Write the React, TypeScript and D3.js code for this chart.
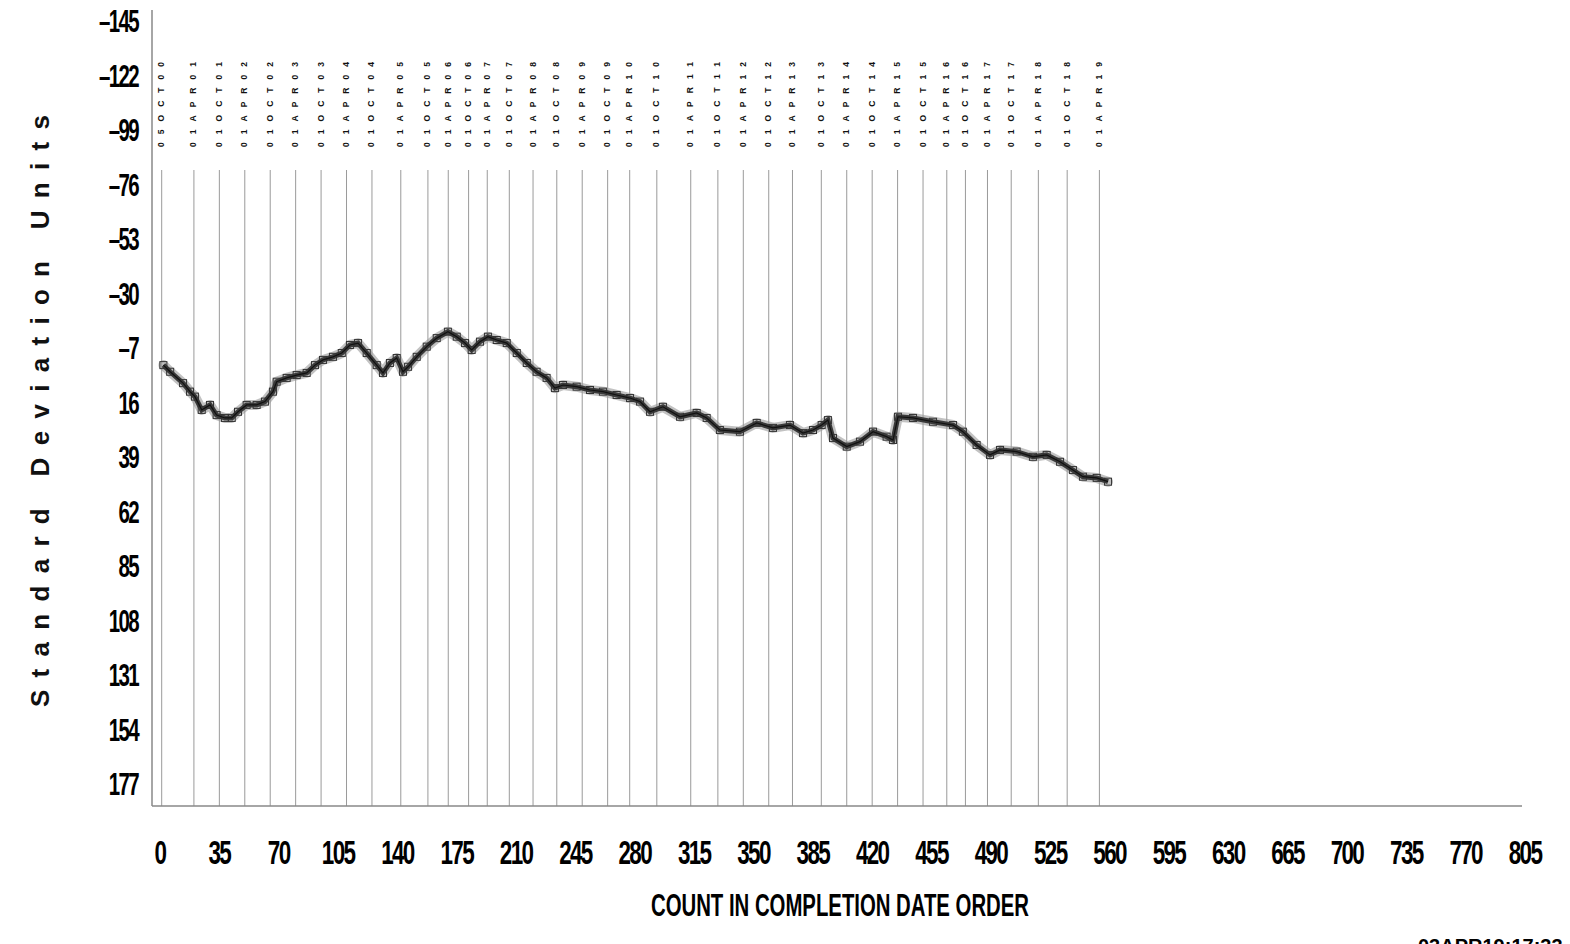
import React from "react";
import * as d3 from "d3";

// ---- data ----
const seriesCount = [2, 6, 13.6, 17.7, 20.6, 24.6, 29.5, 33.4, 38.3, 42.3, 46, 51.1, 57, 61.9, 66.6, 68.8, 74.7, 80.6, 86.5, 91.4, 96.1, 102, 107.2, 112, 116.8, 121.9, 127.8, 131.5, 135.6, 139.6, 143.3, 146.3, 151.4, 157.3, 163.2, 169.8, 175, 179.9, 183.8, 188.7, 193.4, 198.6, 204.5, 210.4, 216.3, 222.1, 228, 232.9, 237.7, 245.7, 253.6, 261.2, 269.3, 277.2, 283.1, 289, 296.6, 306.7, 316.5, 322.4, 330.2, 342, 351.9, 361.5, 371.5, 379.2, 385.1, 390.2, 393.9, 396.9, 405, 412.8, 420.5, 428.5, 432.3, 435.2, 444.1, 455.9, 467.7, 473.5, 481.6, 489.5, 495.4, 505.2, 514.8, 522.9, 530.8, 538.4, 544.3, 552.4, 559.1];
const seriesValue = [-0.1, 2.7, 7.5, 11.1, 13.2, 18.8, 16.7, 21, 22.2, 22.2, 19.6, 16.7, 16.7, 15.3, 11.1, 6.9, 5.3, 4.1, 3.2, -0.1, -2.3, -3.6, -5.2, -8.6, -9.4, -5.2, -0.1, 3.2, -1, -3.1, 2.7, 0.6, -3.6, -7.9, -11.5, -14.2, -12.1, -9.4, -6.5, -10, -12.1, -10.7, -9.4, -5.2, -1, 2.7, 5.3, 9.6, 8.3, 9, 10.4, 11.1, 12.5, 13.8, 15.3, 19.6, 17.5, 21.7, 20.1, 22.2, 27.3, 28, 24.3, 26.4, 25.2, 28.6, 27.3, 25.2, 23.1, 30.7, 34.3, 32.2, 28, 30.1, 31.5, 21.7, 22.2, 23.8, 25.2, 28, 33.6, 37.8, 35.7, 36.4, 38.6, 37.8, 40.7, 44.2, 47, 47.5, 49.1];

const dateLabels = ["05OCT00", "01APR01", "01OCT01", "01APR02", "01OCT02", "01APR03", "01OCT03", "01APR04", "01OCT04", "01APR05", "01OCT05", "01APR06", "01OCT06", "01APR07", "01OCT07", "01APR08", "01OCT08", "01APR09", "01OCT09", "01APR10", "01OCT10", "01APR11", "01OCT11", "01APR12", "01OCT12", "01APR13", "01OCT13", "01APR14", "01OCT14", "01APR15", "01OCT15", "01APR16", "01OCT16", "01APR17", "01OCT17", "01APR18", "01OCT18", "01APR19"];
const dateCounts = [1, 20, 35, 50, 65, 80, 95, 110, 125, 142, 158, 170, 182, 193, 206, 220, 234, 249, 264, 277, 293, 313, 329, 344, 359, 373, 390, 405, 420, 435, 450, 464, 475, 488, 502, 518, 535, 554];

const xTicks = d3.range(0, 806, 35);
const yTicks = d3.range(-145, 178, 23);

const xTitle = "COUNT IN COMPLETION DATE ORDER";
const yTitle = "Standard Deviation Units";
const stamp = "03APR19:17:33";

const W = 1570;
const H = 944;

export default function App() {
  const x = d3.scaleLinear().domain([0, 805]).range([160, 1525]);
  const y = d3.scaleLinear().domain([-150, 186]).range([10, 806]);
  const axisLeft = 152;
  const axisBottom = y(186);
  const axisRight = 1522;

  const pts: [number, number][] = seriesCount.map((c, i) => [c, seriesValue[i]]);
  const line = d3
    .line<[number, number]>()
    .x((d) => x(d[0]))
    .y((d) => y(d[1]));
  const path = line(pts) || "";

  const font = "'Liberation Sans', Arial, Helvetica, sans-serif";

  return (
    <svg
      width={W}
      height={H}
      style={{ position: "fixed", left: 0, top: 0, background: "#fff" }}
      fontFamily={font}
    >
      <rect x={0} y={0} width={W} height={H} fill="#fff" />

      {/* date vertical lines */}
      {dateCounts.map((c, i) => (
        <line
          key={"dl" + i}
          x1={x(c)}
          x2={x(c)}
          y1={170}
          y2={axisBottom}
          stroke="#9a9a9a"
          strokeWidth={1}
        />
      ))}

      {/* date labels */}
      {dateLabels.map((t, i) => (
        <text
          key={"dt" + i}
          transform={`translate(${x(dateCounts[i]) + 2.5},147) rotate(-90)`}
          fontSize={8.5}
          fontWeight="bold"
          textLength={85}
          lengthAdjust="spacing"
          fill="#111"
        >
          {t}
        </text>
      ))}

      {/* axes */}
      <line x1={axisLeft} x2={axisLeft} y1={10} y2={axisBottom} stroke="#888" strokeWidth={1.5} />
      <line x1={axisLeft} x2={axisRight} y1={axisBottom} y2={axisBottom} stroke="#888" strokeWidth={1.5} />

      {/* series */}
      <path d={path} fill="none" stroke="#9a9a9a" strokeWidth={10} strokeLinejoin="round" strokeLinecap="round" opacity={0.6} />
      <path d={path} fill="none" stroke="#3a3a3a" strokeWidth={5} strokeLinejoin="miter" />
      {pts.map((d, i) => (
        <rect
          key={"m" + i}
          x={x(d[0]) - 3.5}
          y={y(d[1]) - 3.5}
          width={7}
          height={7}
          fill="none"
          stroke="#333"
          strokeWidth={1}
        />
      ))}
      <path d={path} fill="none" stroke="#111" strokeWidth={1.2} />

      {/* y tick labels */}
      {yTicks.map((v) => (
        <text
          key={"yt" + v}
          transform={`translate(138,${y(v)}) scale(0.66,1)`}
          textAnchor="end"
          dominantBaseline="central"
          fontSize={31}
          fontWeight="bold"
          letterSpacing={-2.5}
          fill="#000"
        >
          {v < 0 ? "\u2013" + Math.abs(v) : String(v)}
        </text>
      ))}

      {/* x tick labels */}
      {xTicks.map((v) => (
        <text
          key={"xt" + v}
          transform={`translate(${x(v)},852) scale(0.66,1)`}
          textAnchor="middle"
          dominantBaseline="central"
          fontSize={34}
          fontWeight="bold"
          letterSpacing={-2.5}
          fill="#000"
        >
          {v}
        </text>
      ))}

      {/* titles */}
      <text
        x={840}
        y={916}
        textAnchor="middle"
        fontSize={31}
        fontWeight="bold"
        textLength={378}
        lengthAdjust="spacingAndGlyphs"
        fill="#000"
      >
        {xTitle}
      </text>
      <text
        transform={`translate(49,707) rotate(-90)`}
        fontSize={26}
        fontWeight="bold"
        textLength={592}
        lengthAdjust="spacing"
        fill="#111"
      >
        {yTitle}
      </text>
      <text x={1418} y={953} fontSize={20} fontWeight="bold" fill="#000">
        {stamp}
      </text>
    </svg>
  );
}
